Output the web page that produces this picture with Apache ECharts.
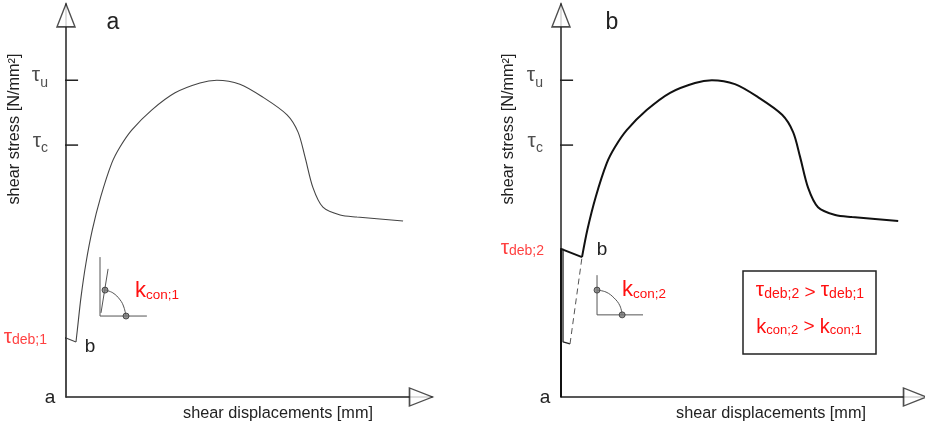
<!DOCTYPE html>
<html><head><meta charset="utf-8">
<script src="https://cdn.jsdelivr.net/npm/echarts@6/dist/echarts.min.js"></script>
<style>html,body{margin:0;padding:0;background:#fff}#c{width:925px;height:429px}</style>
</head><body><div id="c"></div>
<script>
// ---- data (schematic units: x = displacement, y = stress) ----
const tauU = 80.6, tauC = 64.1, tauDeb1 = 15.0, tauDeb2 = 37.7;

// shared upper part of both curves (hardening, peak, softening, residual)
const curveUpper = [[7.19,42.5],[9.48,50.9],[12.5,59.5],[14.75,63.6],[17.95,67.9],[23.4,73.0],[29.8,77.4],[36.6,79.9],[41.2,80.6],[47.5,79.6],[53.8,76.3],[60.4,71.8],[63.4,67.4],[65.3,61.1],[67.5,53.2],[70.2,48.3],[74.9,46.3],[79.5,45.8],[92.1,44.8]];

// panel a
const curveA_start = [[0,0],[0,15.0],[2.73,14.0]];
const curveA_rise = [[2.73,14.0],[3.09,17.0],[4.10,25.4],[5.46,34.1]];
const insetA_vert = [[9.29,35.6],[9.29,20.6]];
const insetA_horiz = [[9.29,20.6],[22.1,20.6]];
const insetA_slope = [[9.56,21.4],[11.5,32.6]];
const insetA_arc = [[10.66,27.2],[12.8,26.5],[14.8,24.7],[15.8,22.9],[16.4,20.6]];
const insetA_dots = [[10.66,27.2],[16.4,20.6]];

// panel b
const curveB_start = [[0,0],[0,37.7],[5.74,35.6]];
const curveB_rise = [[5.74,35.6]];
const curveB_branch = [[0.55,37.7],[0.55,14.0],[2.46,13.5]];
const curveB_dashed = [[2.46,13.5],[5.74,35.6]];
const arrowB_shaft = [[-5.74,14.25],[-5.74,34.86]];
const arrowB_bar = [[-8.7,14.25],[-2.7,14.25]];
const arrowB_head = [[-7.1,32.3],[-5.74,34.86],[-4.1,32.3]];
const insetB_vert = [[9.84,31.0],[9.84,20.9]];
const insetB_horiz = [[9.84,20.9],[22.4,20.9]];
const insetB_arc = [[9.84,27.2],[12.3,26.7],[14.5,25.2],[16.1,23.2],[16.7,20.9]];
const insetB_dots = [[9.84,27.2],[16.7,20.9]];

const tickHalf = 3.3, tickDebLen = 3.55;
const xArrowA = 97.0, xArrowB = 96.7, yArrow = 97.1;

// ---- styling ----
const FONT = '"Liberation Sans", Arial, sans-serif';
const INK = '#222', RED = '#ff1010';

function seg(data, idx, opt) {
  opt = opt || {};
  return {
    type: 'line', xAxisIndex: idx, yAxisIndex: idx, data: data,
    symbol: 'none', smooth: opt.smooth || false,
    clip: false, silent: true, z: opt.z || 3,
    lineStyle: { color: opt.color || INK, width: opt.width || 1, type: opt.type || 'solid' },
    animation: false
  };
}
function dots(data, idx) {
  return { type: 'scatter', xAxisIndex: idx, yAxisIndex: idx, data: data, symbol: 'circle', symbolSize: 6,
    itemStyle: { color: '#777', borderColor: '#333', borderWidth: 1 }, z: 5, silent: true, animation: false };
}
function arrowHeads(idx, xEnd) {
  return [
    { type: 'scatter', xAxisIndex: idx, yAxisIndex: idx, data: [[0, yArrow]], symbol: 'triangle', symbolSize: [18, 23],
      itemStyle: { color: '#fff', borderColor: INK, borderWidth: 1.5 }, z: 6, silent: true, animation: false, clip: false },
    { type: 'scatter', xAxisIndex: idx, yAxisIndex: idx, data: [[xEnd, 0]], symbol: 'triangle', symbolSize: [18, 23], symbolRotate: -90,
      itemStyle: { color: '#fff', borderColor: INK, borderWidth: 1.5 }, z: 6, silent: true, animation: false, clip: false }
  ];
}
function richTau(color, subPad) {
  return { m: { fontSize: 21, fontFamily: FONT, color: color, verticalAlign: 'top' },
           s: { fontSize: 14, fontFamily: FONT, color: color, verticalAlign: 'top', padding: [subPad, 0, 0, 0] } };
}
function tickLabel(idx, x, y, text, rich, dist, dy) {
  return { type: 'scatter', xAxisIndex: idx, yAxisIndex: idx, data: [[x, y]], symbolSize: 0, silent: true, animation: false, clip: false,
    label: { show: true, position: 'left', distance: dist, offset: [0, dy], formatter: text, rich: rich } };
}

function axes(idx, left, width, xmax) {
  return {
    grid: { left: left, top: 4, width: width, height: 393 },
    x: { type: 'value', gridIndex: idx, min: 0, max: xmax, axisLine: { show: true, onZero: false, lineStyle: { color: INK, width: 1.5 } },
      axisTick: { show: false }, axisLabel: { show: false }, splitLine: { show: false } },
    y: { type: 'value', gridIndex: idx, min: 0, max: 100, axisLine: { show: true, onZero: false, lineStyle: { color: INK, width: 1.5 } },
      axisTick: { show: false }, axisLabel: { show: false }, splitLine: { show: false } }
  };
}
const A = axes(0, 66, 366, 100), B = axes(1, 561, 361, 98.6);

const series = [
  // panel a
  seg(curveA_start, 0, { color: '#444', width: 1.1 }),
  seg(curveA_rise.concat(curveUpper), 0, { color: '#444', width: 1.1, smooth: 0.3 }),
  seg([[-tickHalf, tauU], [tickHalf, tauU]], 0, { width: 1.5 }),
  seg([[-tickHalf, tauC], [tickHalf, tauC]], 0, { width: 1.5 }),
  seg([[-tickDebLen, tauDeb1], [0, tauDeb1]], 0, { width: 1.5 }),
  seg(insetA_vert, 0, { color: '#555' }),
  seg(insetA_horiz, 0, { color: '#555' }),
  seg(insetA_slope, 0, { color: '#555' }),
  seg(insetA_arc, 0, { color: '#555', smooth: 0.4 }),
  dots(insetA_dots, 0),
  ...arrowHeads(0, xArrowA),
  tickLabel(0, -tickHalf, tauU, '{m|τ}{s|u}', richTau(INK, 11), 6, -3),
  tickLabel(0, -tickHalf, tauC, '{m|τ}{s|c}', richTau(INK, 10), 6, -2),
  tickLabel(0, -tickDebLen, tauDeb1, '{m|τ}{s|deb;1}', richTau(RED, 7), 6, -1),
  // panel b
  seg(curveB_start, 1, { color: '#111', width: 2 }),
  seg(curveB_rise.concat(curveUpper), 1, { color: '#111', width: 2, smooth: 0.3 }),
  seg(curveB_branch, 1, { color: '#222', width: 1.3 }),
  seg(curveB_dashed, 1, { color: '#555', width: 1, type: [6, 4] }),
  seg([[-tickHalf, tauU], [tickHalf, tauU]], 1, { width: 1.5 }),
  seg([[-tickHalf, tauC], [tickHalf, tauC]], 1, { width: 1.5 }),
  seg([[-tickDebLen, tauDeb2], [0, tauDeb2]], 1, { width: 1.5 }),
  seg(arrowB_shaft, 1, { color: RED, width: 1.6 }),
  seg(arrowB_bar, 1, { color: RED, width: 1.6 }),
  seg(arrowB_head, 1, { color: RED, width: 1.6 }),
  seg(insetB_vert, 1, { color: '#555' }),
  seg(insetB_horiz, 1, { color: '#555' }),
  seg(insetB_arc, 1, { color: '#555', smooth: 0.4 }),
  dots(insetB_dots, 1),
  ...arrowHeads(1, xArrowB),
  tickLabel(1, -tickHalf, tauU, '{m|τ}{s|u}', richTau(INK, 11), 6, -3),
  tickLabel(1, -tickHalf, tauC, '{m|τ}{s|c}', richTau(INK, 10), 6, -2),
  tickLabel(1, -tickDebLen, tauDeb2, '{m|τ}{s|deb;2}', richTau(RED, 7), 4, -1)
];

function txt(x, y, text, size, opt) {
  opt = opt || {};
  return { type: 'text', x: x, y: y, rotation: opt.rot || 0, z: 10, silent: true,
    style: { text: text, fontSize: size, fontFamily: FONT, fill: opt.fill || INK, align: opt.align || 'center', verticalAlign: 'middle', rich: opt.rich } };
}
const gRichK = { m: { fontSize: 22, fontFamily: FONT, fill: RED }, s: { fontSize: 13.5, fontFamily: FONT, fill: RED, verticalAlign: 'bottom' } };
const gRichBoxT = { m: { fontSize: 21, fontFamily: FONT, fill: RED, verticalAlign: 'top' }, s: { fontSize: 14, fontFamily: FONT, fill: RED, verticalAlign: 'top', padding: [7, 0, 0, 0] }, g: { fontSize: 19, fontFamily: FONT, fill: RED, verticalAlign: 'top', padding: [3, 0, 0, 0] } };
const gRichBoxK = { m: { fontSize: 20, fontFamily: FONT, fill: RED }, s: { fontSize: 13, fontFamily: FONT, fill: RED, verticalAlign: 'bottom' }, g: { fontSize: 19, fontFamily: FONT, fill: RED } };

const chart = echarts.init(document.getElementById('c'), null, { renderer: 'canvas' });
chart.setOption({
  animation: false,
  backgroundColor: '#fff',
  grid: [A.grid, B.grid],
  xAxis: [A.x, B.x],
  yAxis: [A.y, B.y],
  series: series,
  graphic: [
    txt(113, 23, 'a', 23),
    txt(612, 23, 'b', 23),
    txt(50, 398, 'a', 19),
    txt(545, 398, 'a', 19),
    txt(90, 347, 'b', 19),
    txt(602, 250, 'b', 19),
    txt(15, 129, 'shear stress [N/mm²]', 16.3, { rot: Math.PI / 2 }),
    txt(509, 129, 'shear stress [N/mm²]', 16.3, { rot: Math.PI / 2 }),
    txt(278, 414, 'shear displacements [mm]', 16.3),
    txt(771, 414, 'shear displacements [mm]', 16.3),
    txt(135, 291, '{m|k}{s|con;1}', 22, { align: 'left', rich: gRichK }),
    txt(622, 290, '{m|k}{s|con;2}', 22, { align: 'left', rich: gRichK }),
    { type: 'rect', shape: { x: 743, y: 271, width: 133, height: 83 }, z: 9, silent: true,
      style: { fill: '#fff', stroke: INK, lineWidth: 1.5 } },
    txt(810, 291, '{m|τ}{s|deb;2}{g| > }{m|τ}{s|deb;1}', 20, { rich: gRichBoxT }),
    txt(809, 327, '{m|k}{s|con;2}{g| > }{m|k}{s|con;1}', 20, { rich: gRichBoxK })
  ]
});
</script>
</body></html>
